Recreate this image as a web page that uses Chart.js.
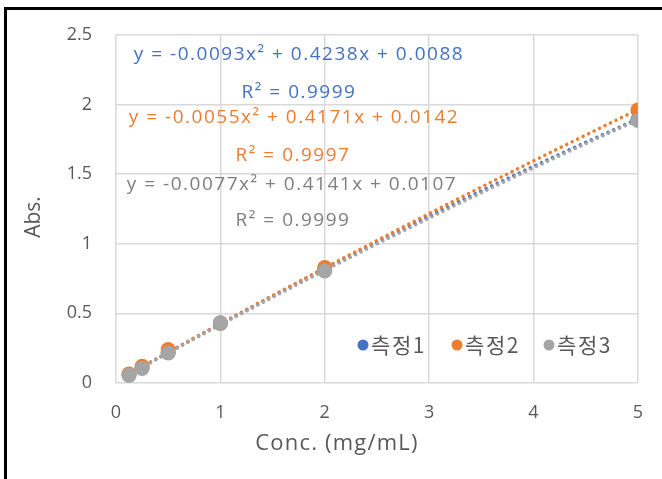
<!DOCTYPE html>
<html>
<head>
<meta charset="utf-8">
<script src="https://cdn.jsdelivr.net/npm/chart.js@4.4.1/dist/chart.umd.min.js"></script>
<style>
  body { margin: 0; background: #fff; }
  #wrap { position: relative; width: 662px; height: 479px; }
  #frame { position: absolute; left: 4px; top: 7px; right: 0; bottom: 0; border-left: 3px solid #000; border-top: 3px solid #000; pointer-events: none; }
</style>
</head>
<body>
<div id="wrap">
  <canvas id="calChart" width="662" height="479"></canvas>
  <div id="frame"></div>
</div>
<script>
// Calibration data
const concX = [0.125, 0.25, 0.5, 1, 2, 5];
const abs1 = [0.06, 0.115, 0.22, 0.43, 0.82, 1.89];
const abs2 = [0.065, 0.12, 0.24, 0.43, 0.83, 1.96];
const abs3 = [0.055, 0.105, 0.215, 0.43, 0.805, 1.885];
const seriesNames = ['측정1', '측정2', '측정3'];
const seriesColors = ['#4472C4', '#ED7D31', '#A5A5A5'];
const labelColors = ['#4472C4', '#ED7D31', '#7F7F7F'];

// Trendline coefficients [a, b, c] for y = ax² + bx + c, and R² as printed
const fit1 = [-0.0093, 0.4238, 0.0088];
const fit2 = [-0.0055, 0.4171, 0.0142];
const fit3 = [-0.0077, 0.4141, 0.0107];
const rSquared = [0.9999, 0.9997, 0.9999];

const xTicks = [0, 1, 2, 3, 4, 5];
const yTicks = [0, 0.5, 1, 1.5, 2, 2.5];
const xTitle = 'Conc. (mg/mL)';
const yTitle = 'Abs.';

const FONT = '"Open Sans", "Noto Sans CJK KR", sans-serif';
const KFONT = '"Noto Sans CJK KR", "Open Sans", sans-serif';
const fits = [fit1, fit2, fit3];

function eqText(f) {
  return 'y = ' + f[0].toFixed(4) + 'x² + ' + f[1].toFixed(4) + 'x + ' + f[2].toFixed(4);
}

function pts(ys) {
  return concX.map((x, i) => ({ x: x, y: ys[i] }));
}

// dotted polynomial trendlines, drawn under the markers
const trendPlugin = {
  id: 'trend',
  beforeDatasetsDraw(chart) {
    const ctx = chart.ctx;
    const xs = chart.scales.x, ys = chart.scales.y;
    const x0 = Math.min(...concX), x1 = Math.max(...concX);
    ctx.save();
    fits.forEach((f, k) => {
      ctx.beginPath();
      const steps = 60;
      for (let i = 0; i <= steps; i++) {
        const xv = x0 + (x1 - x0) * i / steps;
        const yv = f[0] * xv * xv + f[1] * xv + f[2];
        const px = xs.getPixelForValue(xv), py = ys.getPixelForValue(yv);
        if (i === 0) ctx.moveTo(px, py); else ctx.lineTo(px, py);
      }
      ctx.strokeStyle = seriesColors[k];
      ctx.lineWidth = 3.5;
      ctx.lineCap = 'round';
      ctx.setLineDash([0.1, 6]);
      ctx.stroke();
    });
    ctx.restore();
  }
};

// equation labels, legend and axis titles
const labelPlugin = {
  id: 'labels',
  afterDatasetsDraw(chart) {
    const ctx = chart.ctx;
    ctx.save();
    ctx.font = '19px ' + FONT;
    ctx.letterSpacing = '1.5px';
    ctx.textAlign = 'center';
    ctx.textBaseline = 'middle';
    const eqPos = [[299, 55, 299, 93], [294, 118, 293, 156], [292, 185, 293, 221]];
    fits.forEach((f, k) => {
      ctx.fillStyle = labelColors[k];
      ctx.fillText(eqText(f), eqPos[k][0], eqPos[k][1]);
      ctx.fillText('R² = ' + rSquared[k].toFixed(4), eqPos[k][2], eqPos[k][3]);
    });

    ctx.font = '21px ' + KFONT;
    ctx.letterSpacing = '1.6px';
    ctx.textAlign = 'left';
    const legX = [363, 457, 549];
    seriesNames.forEach((name, k) => {
      ctx.fillStyle = seriesColors[k];
      ctx.beginPath();
      ctx.arc(legX[k], 345, 5.5, 0, Math.PI * 2);
      ctx.fill();
      ctx.fillStyle = '#595959';
      ctx.fillText(name, legX[k] + 8, 345);
    });

    // axis titles
    ctx.fillStyle = '#595959';
    ctx.textAlign = 'center';
    ctx.font = '22px ' + FONT;
    ctx.letterSpacing = '1.2px';
    ctx.fillText(xTitle, 337, 444);
    ctx.letterSpacing = '0px';
    ctx.translate(34, 217);
    ctx.rotate(-Math.PI / 2);
    ctx.font = '21px ' + FONT;
    ctx.fillText(yTitle, 0, 0);
    ctx.restore();
  }
};

new Chart(document.getElementById('calChart'), {
  type: 'scatter',
  data: {
    datasets: [abs1, abs2, abs3].map((ys, k) => ({
      label: seriesNames[k],
      data: pts(ys),
      order: 2 - k,
      backgroundColor: seriesColors[k],
      borderColor: seriesColors[k],
      borderWidth: 0,
      pointRadius: 7.5,
      pointHoverRadius: 7.5
    }))
  },
  options: {
    responsive: false,
    animation: false,
    layout: { padding: { left: 8, right: 19, top: 34, bottom: 0 } },
    plugins: {
      legend: { display: false },
      tooltip: { enabled: false }
    },
    scales: {
      x: {
        type: 'linear',
        min: 0, max: 5,
        afterBuildTicks: s => { s.ticks = xTicks.map(v => ({ value: v })); },
        afterFit: s => { s.height = 96; },
        grid: { color: '#D9D9D9', lineWidth: 1.5, drawTicks: false },
        border: { display: false },
        ticks: { color: '#595959', font: { family: FONT, size: 18 }, padding: 19, callback: v => String(v) }
      },
      y: {
        type: 'linear',
        min: 0, max: 2.5,
        afterBuildTicks: s => { s.ticks = yTicks.map(v => ({ value: v })); },
        afterFit: s => { s.width = 108; },
        grid: { color: '#D9D9D9', lineWidth: 1.5, drawTicks: false },
        border: { display: false },
        ticks: { color: '#595959', font: { family: FONT, size: 18 }, padding: 24, callback: v => String(v) }
      }
    }
  },
  plugins: [trendPlugin, labelPlugin]
});
</script>
</body>
</html>
